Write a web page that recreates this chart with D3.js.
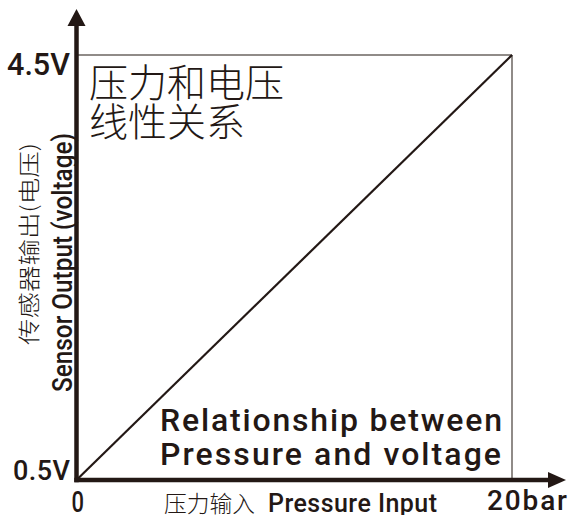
<!DOCTYPE html>
<html><head><meta charset="utf-8">
<script src="https://cdn.jsdelivr.net/npm/d3@7"></script>
<style>body{margin:0;background:#fff}svg{display:block}</style>
</head><body>
<script>
const pressure = [0, 20];
const voltage = [0.5, 4.5];
const xTickLabels = ["0", "20bar"];
const yTickLabels = ["0.5V", "4.5V"];
const titleZh = ["压力和电压", "线性关系"];
const titleEn = ["Relationship between", "Pressure and voltage"];
const xLabelZh = "压力输入";
const xLabelEn = "Pressure Input";
const yLabelZh = "传感器输出(电压)";
const yLabelEn = "Sensor Output (voltage)";

const W = 572, H = 515;
const svg = d3.select("body").append("svg").attr("width", W).attr("height", H);
const x = d3.scaleLinear().domain([0, 20]).range([76.5, 512]);
const y = d3.scaleLinear().domain([0.5, 4.5]).range([480, 55]);
const ink = "#231815";
const num = "Roboto, 'DejaVu Sans', sans-serif";
const cjk = "'Noto Sans CJK SC', sans-serif";

// text fitted to a measured span: letter-spacing if too short, squeeze glyphs if too long
function txt(s, opts, len, stretch) {
  const t = svg.append("text").text(s).attr("fill", ink);
  Object.entries(opts).forEach(([k, v]) => t.attr(k, v));
  if (len) {
    const nat = t.node().getComputedTextLength();
    t.attr("textLength", len)
     .attr("lengthAdjust", (nat < len && !stretch) ? "spacing" : "spacingAndGlyphs");
  }
  return t;
}

// frame lines
svg.append("line").attr("x1", x(0)).attr("x2", x(20)).attr("y1", y(4.5)).attr("y2", y(4.5))
  .attr("stroke", "#6b6461").attr("stroke-width", 1.5);
svg.append("line").attr("x1", x(20)).attr("x2", x(20)).attr("y1", y(4.5)).attr("y2", y(0.5))
  .attr("stroke", "#6b6461").attr("stroke-width", 1.5);

// data line
svg.append("path").datum(pressure.map((p, i) => [p, voltage[i]]))
  .attr("d", d3.line().x(d => x(d[0])).y(d => y(d[1])))
  .attr("stroke", ink).attr("stroke-width", 2.2).attr("fill", "none");

// axes
svg.append("line").attr("x1", x(0)).attr("x2", x(0)).attr("y1", y(0.5) + 2.2).attr("y2", 22)
  .attr("stroke", ink).attr("stroke-width", 4.5);
svg.append("path").attr("d", "M76.5,9 L67.5,26 L85.5,26 Z").attr("fill", ink);
svg.append("line").attr("x1", x(0) - 2.2).attr("x2", 551).attr("y1", y(0.5)).attr("y2", y(0.5))
  .attr("stroke", ink).attr("stroke-width", 4.5);
svg.append("path").attr("d", "M566,480 L548,472 L548,488 Z").attr("fill", ink);

// tick labels
txt(yTickLabels[1], {x: 7, y: 75, "font-family": num, "font-weight": 500, "font-size": 31}, 63);
txt(yTickLabels[0], {x: 13, y: 480, "font-family": num, "font-weight": 500, "font-size": 27}, 57);
txt(xTickLabels[0], {x: 71.5, y: 512, "font-family": num, "font-weight": 500, "font-size": 29}, 12.5);
txt(xTickLabels[1], {x: 487, y: 510, "font-family": num, "font-weight": 500, "font-size": 28}, 80);

// x label
txt(xLabelZh, {x: 164, y: 512, "font-family": cjk, "font-weight": 300, "font-size": 23}, 91);
txt(xLabelEn, {x: 268, y: 512, "font-family": num, "font-weight": 500, "font-size": 25}, 169);

// y labels (rotated, reading bottom to top)
txt(yLabelZh, {transform: "translate(36.5,345) rotate(-90)", "font-family": cjk, "font-weight": 300,
  "font-size": 22}, 202, true);
txt(yLabelEn, {transform: "translate(71.5,392) rotate(-90)", "font-family": num, "font-weight": 500,
  "font-size": 27}, 259);

// titles
titleZh.forEach((t, i) => txt(t, {x: 89, y: 97 + i * 39, "font-family": cjk, "font-weight": 300,
  "font-size": 39}));
titleEn.forEach((t, i) => txt(t, {x: 160, y: 431 + i * 34, "font-family": num, "font-weight": 500,
  "font-size": 32}, 342 - i));
</script>
</body></html>
